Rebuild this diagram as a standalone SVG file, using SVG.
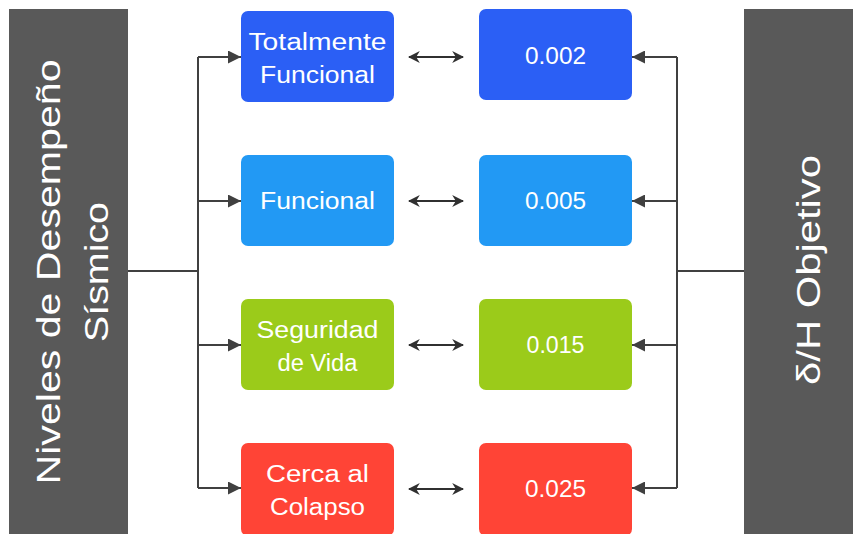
<svg xmlns="http://www.w3.org/2000/svg" width="853" height="534" viewBox="0 0 853 534">
<defs>
<marker id="ah" viewBox="0 0 10 10" refX="10" refY="5" markerWidth="13" markerHeight="13" markerUnits="userSpaceOnUse" orient="auto-start-reverse">
<path d="M0,0 L10,5 L0,10 z" fill="#404040"/>
</marker>
<marker id="ah2" viewBox="0 0 10 10" refX="9" refY="5" markerWidth="12" markerHeight="12" markerUnits="userSpaceOnUse" orient="auto-start-reverse">
<path d="M0,0 L10,5 L0,10 L3,5 z" fill="#303030"/>
</marker>
</defs>
<style>
.side{fill:#595959;}
.box{stroke:none;}
.t{font-family:"Liberation Sans","DejaVu Sans",sans-serif;fill:#ffffff;text-anchor:middle;}
.n{font-size:23px;}
.big{font-size:34px;}
.ln{fill:none;stroke:#404040;stroke-width:2;}
.dbl{fill:none;stroke:#303030;stroke-width:2;}
</style>
<rect width="853" height="534" fill="#ffffff"/>
<g id="left-title">
<rect class="side" x="9" y="9" width="119" height="530"/>
<text class="t big" transform="translate(60,272) rotate(-90)" textLength="425" lengthAdjust="spacingAndGlyphs">Niveles de Desempeño</text>
<text class="t big" transform="translate(108,272) rotate(-90)" textLength="140" lengthAdjust="spacingAndGlyphs">Sísmico</text>
</g>
<g id="right-title">
<rect class="side" x="744" y="9" width="115" height="530"/>
<text class="t big" transform="translate(820,270) rotate(-90)" textLength="230" lengthAdjust="spacingAndGlyphs">δ/H Objetivo</text>
</g>
<g id="connectors">
<path class="ln" d="M128,271 H198"/>
<path class="ln" d="M198,57 V488"/>
<path class="ln" d="M198,57 H241" marker-end="url(#ah)"/>
<path class="ln" d="M198,201 H241" marker-end="url(#ah)"/>
<path class="ln" d="M198,345 H241" marker-end="url(#ah)"/>
<path class="ln" d="M198,488 H241" marker-end="url(#ah)"/>
<path class="ln" d="M744,271 H677"/>
<path class="ln" d="M677,57 V488"/>
<path class="ln" d="M677,57 H632" marker-end="url(#ah)"/>
<path class="ln" d="M677,201 H632" marker-end="url(#ah)"/>
<path class="ln" d="M677,345 H632" marker-end="url(#ah)"/>
<path class="ln" d="M677,488 H632" marker-end="url(#ah)"/>
<path class="dbl" d="M409,57 H463" marker-start="url(#ah2)" marker-end="url(#ah2)"/>
<path class="dbl" d="M409,201 H463" marker-start="url(#ah2)" marker-end="url(#ah2)"/>
<path class="dbl" d="M409,345 H463" marker-start="url(#ah2)" marker-end="url(#ah2)"/>
<path class="dbl" d="M409,489 H463" marker-start="url(#ah2)" marker-end="url(#ah2)"/>
</g>
<g id="n1">
<rect class="box" x="241" y="11" width="153" height="91" rx="7" fill="#2B5FF5"/>
<text class="t n" x="317.5" y="50" textLength="138" lengthAdjust="spacingAndGlyphs">Totalmente</text>
<text class="t n" x="317.5" y="83" textLength="115" lengthAdjust="spacingAndGlyphs">Funcional</text>
</g>
<g id="v1">
<rect class="box" x="479" y="9" width="153" height="91" rx="7" fill="#2B5FF5"/>
<text class="t n" x="555.5" y="64" textLength="61" lengthAdjust="spacingAndGlyphs">0.002</text>
</g>
<g id="n2">
<rect class="box" x="241" y="155" width="153" height="91" rx="7" fill="#2299F4"/>
<text class="t n" x="317.5" y="209" textLength="115" lengthAdjust="spacingAndGlyphs">Funcional</text>
</g>
<g id="v2">
<rect class="box" x="479" y="155" width="153" height="91" rx="7" fill="#2299F4"/>
<text class="t n" x="555.5" y="209" textLength="61" lengthAdjust="spacingAndGlyphs">0.005</text>
</g>
<g id="n3">
<rect class="box" x="241" y="299" width="153" height="91" rx="7" fill="#9BCB1A"/>
<text class="t n" x="317.5" y="338" textLength="122" lengthAdjust="spacingAndGlyphs">Seguridad</text>
<text class="t n" x="317.5" y="371" textLength="80" lengthAdjust="spacingAndGlyphs">de Vida</text>
</g>
<g id="v3">
<rect class="box" x="479" y="299" width="153" height="91" rx="7" fill="#9BCB1A"/>
<text class="t n" x="555.5" y="353" textLength="58" lengthAdjust="spacingAndGlyphs">0.015</text>
</g>
<g id="n4">
<rect class="box" x="241" y="443" width="153" height="93" rx="7" fill="#FF4436"/>
<text class="t n" x="317.5" y="482" textLength="103" lengthAdjust="spacingAndGlyphs">Cerca al</text>
<text class="t n" x="317.5" y="515" textLength="95" lengthAdjust="spacingAndGlyphs">Colapso</text>
</g>
<g id="v4">
<rect class="box" x="479" y="443" width="153" height="93" rx="7" fill="#FF4436"/>
<text class="t n" x="555.5" y="497" textLength="61" lengthAdjust="spacingAndGlyphs">0.025</text>
</g>
</svg>
